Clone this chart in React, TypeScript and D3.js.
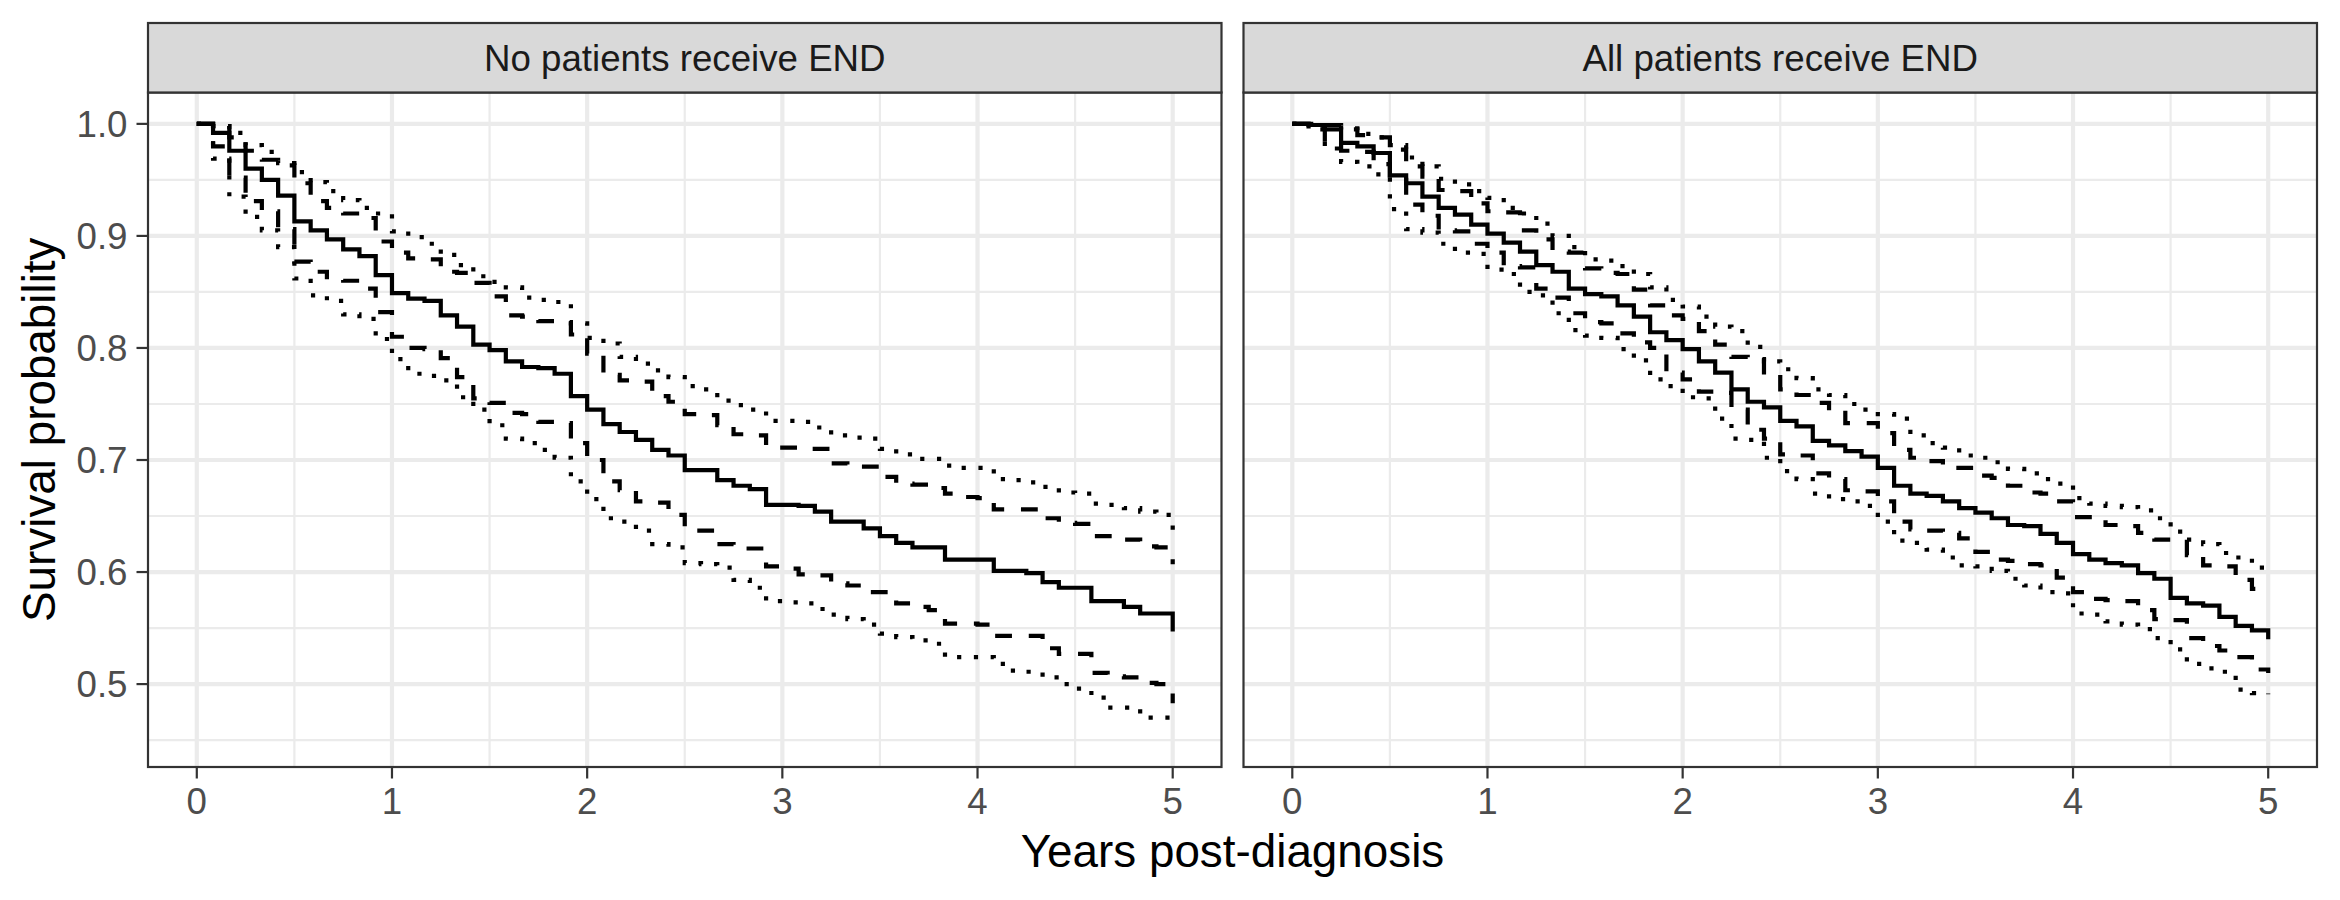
import * as d3 from "d3";
import * as React from "react";

// survival estimates read off at monthly steps (month 0..60)
const panelTitles = ["No patients receive END", "All patients receive END"];

const noSurv = [1.0, 0.992, 0.976, 0.96, 0.95, 0.936, 0.913, 0.905, 0.897, 0.888, 0.882, 0.865, 0.849, 0.844, 0.842, 0.829, 0.819, 0.803, 0.798, 0.788, 0.783, 0.782, 0.777, 0.757, 0.745, 0.732, 0.725, 0.718, 0.709, 0.704, 0.691, 0.691, 0.682, 0.677, 0.674, 0.66, 0.66, 0.659, 0.654, 0.645, 0.645, 0.639, 0.632, 0.626, 0.622, 0.622, 0.611, 0.611, 0.611, 0.601, 0.601, 0.599, 0.591, 0.586, 0.586, 0.574, 0.574, 0.569, 0.563, 0.563, 0.547];
const noUpperDash = [1.0, 0.998, 0.988, 0.976, 0.968, 0.963, 0.947, 0.931, 0.925, 0.92, 0.916, 0.895, 0.885, 0.88, 0.879, 0.868, 0.867, 0.858, 0.846, 0.829, 0.828, 0.824, 0.823, 0.812, 0.795, 0.776, 0.771, 0.77, 0.757, 0.752, 0.741, 0.74, 0.731, 0.723, 0.722, 0.711, 0.711, 0.71, 0.71, 0.697, 0.694, 0.694, 0.685, 0.679, 0.678, 0.675, 0.67, 0.667, 0.666, 0.656, 0.656, 0.656, 0.648, 0.644, 0.643, 0.632, 0.632, 0.629, 0.623, 0.622, 0.607];
const noUpperDot = [1.0, 0.998, 0.992, 0.981, 0.975, 0.965, 0.957, 0.948, 0.94, 0.932, 0.925, 0.92, 0.904, 0.899, 0.893, 0.883, 0.874, 0.864, 0.859, 0.854, 0.845, 0.843, 0.841, 0.822, 0.809, 0.804, 0.792, 0.786, 0.78, 0.774, 0.766, 0.763, 0.753, 0.749, 0.745, 0.735, 0.735, 0.734, 0.729, 0.722, 0.72, 0.719, 0.71, 0.705, 0.701, 0.701, 0.695, 0.693, 0.693, 0.683, 0.682, 0.68, 0.676, 0.671, 0.67, 0.661, 0.66, 0.657, 0.654, 0.651, 0.636];
const noLowerDash = [1.0, 0.98, 0.952, 0.931, 0.922, 0.906, 0.877, 0.868, 0.861, 0.86, 0.853, 0.832, 0.81, 0.8, 0.799, 0.791, 0.774, 0.755, 0.751, 0.742, 0.741, 0.734, 0.733, 0.715, 0.7, 0.681, 0.673, 0.663, 0.662, 0.651, 0.637, 0.637, 0.625, 0.621, 0.621, 0.605, 0.603, 0.598, 0.597, 0.59, 0.588, 0.582, 0.582, 0.572, 0.569, 0.566, 0.554, 0.554, 0.553, 0.543, 0.543, 0.543, 0.532, 0.527, 0.527, 0.51, 0.507, 0.506, 0.501, 0.5, 0.483];
const noLowerDot = [1.0, 0.969, 0.935, 0.917, 0.905, 0.89, 0.862, 0.847, 0.842, 0.83, 0.826, 0.808, 0.79, 0.777, 0.775, 0.771, 0.756, 0.745, 0.731, 0.719, 0.715, 0.709, 0.702, 0.681, 0.665, 0.648, 0.645, 0.637, 0.625, 0.622, 0.608, 0.607, 0.604, 0.593, 0.586, 0.574, 0.573, 0.572, 0.567, 0.562, 0.558, 0.553, 0.545, 0.542, 0.539, 0.536, 0.524, 0.524, 0.524, 0.518, 0.512, 0.511, 0.506, 0.5, 0.496, 0.488, 0.479, 0.479, 0.47, 0.47, 0.465];

const allSurv = [1.0, 0.999, 0.995, 0.983, 0.98, 0.974, 0.954, 0.947, 0.935, 0.925, 0.919, 0.91, 0.902, 0.894, 0.886, 0.874, 0.868, 0.853, 0.848, 0.846, 0.838, 0.828, 0.814, 0.807, 0.799, 0.788, 0.778, 0.763, 0.752, 0.747, 0.735, 0.73, 0.717, 0.713, 0.708, 0.703, 0.693, 0.677, 0.67, 0.668, 0.663, 0.657, 0.653, 0.648, 0.642, 0.641, 0.634, 0.626, 0.616, 0.611, 0.608, 0.606, 0.599, 0.594, 0.577, 0.572, 0.57, 0.56, 0.552, 0.548, 0.54];
const allUpperDash = [1.0, 1.0, 0.999, 0.996, 0.99, 0.988, 0.977, 0.962, 0.953, 0.941, 0.94, 0.929, 0.922, 0.921, 0.905, 0.897, 0.886, 0.885, 0.871, 0.867, 0.866, 0.852, 0.838, 0.829, 0.826, 0.815, 0.803, 0.792, 0.79, 0.776, 0.763, 0.758, 0.751, 0.742, 0.733, 0.733, 0.724, 0.709, 0.702, 0.699, 0.693, 0.693, 0.686, 0.684, 0.677, 0.671, 0.67, 0.663, 0.649, 0.649, 0.642, 0.641, 0.635, 0.629, 0.629, 0.615, 0.606, 0.605, 0.593, 0.585, 0.584];
const allUpperDot = [1.0, 1.0, 0.999, 0.995, 0.991, 0.988, 0.981, 0.97, 0.962, 0.951, 0.946, 0.94, 0.934, 0.925, 0.92, 0.911, 0.9, 0.89, 0.879, 0.878, 0.873, 0.866, 0.854, 0.843, 0.837, 0.828, 0.819, 0.815, 0.801, 0.788, 0.781, 0.773, 0.763, 0.758, 0.75, 0.745, 0.741, 0.737, 0.722, 0.715, 0.711, 0.704, 0.702, 0.698, 0.692, 0.688, 0.683, 0.679, 0.666, 0.661, 0.659, 0.658, 0.655, 0.648, 0.636, 0.629, 0.625, 0.617, 0.613, 0.604, 0.597];
const allLowerDash = [1.0, 0.996, 0.983, 0.976, 0.975, 0.964, 0.95, 0.928, 0.918, 0.905, 0.904, 0.893, 0.885, 0.873, 0.872, 0.853, 0.845, 0.831, 0.823, 0.822, 0.813, 0.805, 0.8, 0.778, 0.772, 0.761, 0.76, 0.745, 0.727, 0.719, 0.705, 0.704, 0.688, 0.683, 0.673, 0.672, 0.663, 0.645, 0.638, 0.637, 0.635, 0.63, 0.618, 0.611, 0.61, 0.607, 0.606, 0.595, 0.582, 0.576, 0.575, 0.574, 0.566, 0.558, 0.557, 0.541, 0.534, 0.53, 0.524, 0.513, 0.51];
const allLowerDot = [1.0, 0.995, 0.978, 0.966, 0.962, 0.955, 0.924, 0.906, 0.903, 0.893, 0.885, 0.884, 0.87, 0.866, 0.85, 0.847, 0.831, 0.816, 0.811, 0.809, 0.799, 0.789, 0.772, 0.766, 0.756, 0.755, 0.737, 0.719, 0.718, 0.702, 0.69, 0.683, 0.67, 0.665, 0.663, 0.659, 0.645, 0.628, 0.626, 0.62, 0.613, 0.606, 0.605, 0.601, 0.594, 0.588, 0.582, 0.581, 0.563, 0.562, 0.556, 0.553, 0.549, 0.541, 0.531, 0.518, 0.514, 0.511, 0.495, 0.492, 0.491];

const xTicks = [0, 1, 2, 3, 4, 5];
const yTicks = [0.5, 0.6, 0.7, 0.8, 0.9, 1.0];

const W = 2340;
const H = 900;
const LW = 4.2;
const FONT = '"Liberation Sans", Arial, Helvetica, sans-serif';

interface Curve {
  values: number[];
  dash: string | null;
}

const panels: { title: string; curves: Curve[] }[] = [
  {
    title: panelTitles[0],
    curves: [
      { values: noUpperDot, dash: `${LW} ${LW * 3}` },
      { values: noLowerDot, dash: `${LW} ${LW * 3}` },
      { values: noUpperDash, dash: `${LW * 4} ${LW * 4}` },
      { values: noLowerDash, dash: `${LW * 4} ${LW * 4}` },
      { values: noSurv, dash: null },
    ],
  },
  {
    title: panelTitles[1],
    curves: [
      { values: allUpperDot, dash: `${LW} ${LW * 3}` },
      { values: allLowerDot, dash: `${LW} ${LW * 3}` },
      { values: allUpperDash, dash: `${LW * 4} ${LW * 4}` },
      { values: allLowerDash, dash: `${LW * 4} ${LW * 4}` },
      { values: allSurv, dash: null },
    ],
  },
];

const panelX: [number, number][] = [
  [148, 1221.5],
  [1243.5, 2317],
];
const panelTop = 92.5;
const panelBottom = 767;
const stripTop = 23;

const y = d3.scaleLinear().domain([0.426, 1.028]).range([panelBottom, panelTop]);

function Panel({ idx }: { idx: number }) {
  const [x0, x1] = panelX[idx];
  const x = d3.scaleLinear().domain([-0.25, 5.25]).range([x0, x1]);
  const p = panels[idx];
  const line = d3
    .line<[number, number]>()
    .x((d) => x(d[0]))
    .y((d) => y(d[1]))
    .curve(d3.curveStepAfter);

  const minorX = [0.5, 1.5, 2.5, 3.5, 4.5];
  const minorY = [0.45, 0.55, 0.65, 0.75, 0.85, 0.95];

  return (
    <g>
      <rect x={x0} y={panelTop} width={x1 - x0} height={panelBottom - panelTop} fill="#fff" />
      {/* grid */}
      {minorY.map((v) => (
        <line key={"my" + v} x1={x0} x2={x1} y1={y(v)} y2={y(v)} stroke="#EBEBEB" strokeWidth={2.2} />
      ))}
      {minorX.map((v) => (
        <line key={"mx" + v} x1={x(v)} x2={x(v)} y1={panelTop} y2={panelBottom} stroke="#EBEBEB" strokeWidth={2.2} />
      ))}
      {yTicks.map((v) => (
        <line key={"gy" + v} x1={x0} x2={x1} y1={y(v)} y2={y(v)} stroke="#EBEBEB" strokeWidth={4.2} />
      ))}
      {xTicks.map((v) => (
        <line key={"gx" + v} x1={x(v)} x2={x(v)} y1={panelTop} y2={panelBottom} stroke="#EBEBEB" strokeWidth={4.2} />
      ))}
      {/* curves */}
      {p.curves.map((c, i) => (
        <path
          key={i}
          d={line(c.values.map((v, k) => [k / 12, v] as [number, number])) || ""}
          fill="none"
          stroke="#000"
          strokeWidth={LW}
          strokeDasharray={c.dash || undefined}
          strokeLinecap="butt"
        />
      ))}
      {/* border */}
      <rect
        x={x0}
        y={panelTop}
        width={x1 - x0}
        height={panelBottom - panelTop}
        fill="none"
        stroke="#333333"
        strokeWidth={2.2}
      />
      {/* strip */}
      <rect
        x={x0}
        y={stripTop}
        width={x1 - x0}
        height={panelTop - stripTop}
        fill="#D9D9D9"
        stroke="#333333"
        strokeWidth={2.2}
      />
      <text
        x={(x0 + x1) / 2}
        y={(stripTop + panelTop) / 2}
        dy="0.35em"
        textAnchor="middle"
        fontSize={36.7}
        fill="#1A1A1A"
        fontFamily={FONT}
      >
        {p.title}
      </text>
      {/* x axis */}
      {xTicks.map((v) => (
        <g key={"xt" + v}>
          <line x1={x(v)} x2={x(v)} y1={panelBottom} y2={panelBottom + 11.5} stroke="#333333" strokeWidth={2.2} />
          <text x={x(v)} y={814} textAnchor="middle" fontSize={36.7} fill="#4D4D4D" fontFamily={FONT}>
            {v}
          </text>
        </g>
      ))}
      {/* y axis only on the first panel */}
      {idx === 0 &&
        yTicks.map((v) => (
          <g key={"yt" + v}>
            <line x1={x0 - 11.5} x2={x0} y1={y(v)} y2={y(v)} stroke="#333333" strokeWidth={2.2} />
            <text
              x={x0 - 20.5}
              y={y(v)}
              dy="0.36em"
              textAnchor="end"
              fontSize={36.7}
              fill="#4D4D4D"
              fontFamily={FONT}
            >
              {v.toFixed(1)}
            </text>
          </g>
        ))}
    </g>
  );
}

export default function App() {
  return (
    <svg
      width={W}
      height={H}
      style={{ position: "absolute", left: 0, top: 0, background: "#fff" }}
    >
      <rect width={W} height={H} fill="#fff" />
      <Panel idx={0} />
      <Panel idx={1} />
      <text
        x={(panelX[0][0] + panelX[1][1]) / 2}
        y={867}
        textAnchor="middle"
        fontSize={45.8}
        fill="#000"
        fontFamily={FONT}
      >
        Years post-diagnosis
      </text>
      <text
        transform={`translate(55, ${(panelTop + panelBottom) / 2}) rotate(-90)`}
        textAnchor="middle"
        fontSize={45.8}
        fill="#000"
        fontFamily={FONT}
      >
        Survival probability
      </text>
    </svg>
  );
}
